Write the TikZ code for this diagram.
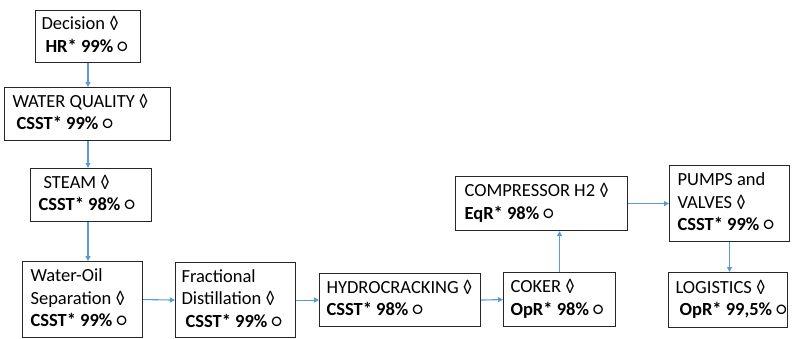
\documentclass[tikz,border=0pt]{standalone}
\usepackage{fontspec}
\setmainfont{Carlito}
\usetikzlibrary{arrows.meta}
\definecolor{linkblue}{HTML}{5B9BD5}
\definecolor{boxline}{HTML}{262626}
\tikzset{
  box/.style={draw=boxline, line width=1.1pt, rectangle, inner sep=0pt,
    font=\fontsize{18.5}{22.5}\selectfont, anchor=north west},
  arr/.style={draw=linkblue, line width=1.1pt, -{Triangle[length=5pt,width=5pt]}},
}
% left-aligned lines of a box, set after a left indent, filling the box width
\newcommand{\boxlines}[3]{%
  \makebox[#1pt][l]{\hspace*{#2pt}\begin{tabular}{@{}l@{}}#3\end{tabular}}}
\newcommand{\ind}{\hspace*{4pt}}
\begin{document}
\begin{tikzpicture}[x=1pt,y=-1pt]
  \useasboundingbox (0,0) rectangle (797,338);

  \node[box, minimum width=105pt, minimum height=52pt] (dec) at (35,10)
    {\boxlines{105}{6}{Decision ◊\\ \ind\textbf{HR* 99\%} ○}};
  \node[box, minimum width=166pt, minimum height=53pt] (wq) at (4,87)
    {\boxlines{166}{8}{WATER QUALITY ◊\\ \ind\textbf{CSST* 99\%} ○}};
  \node[box, minimum width=121pt, minimum height=53pt] (st) at (30,168)
    {\boxlines{121}{8}{\hspace*{5pt}STEAM ◊\\ \textbf{CSST* 98\%} ○}};
  \node[box, minimum width=120pt, minimum height=76pt] (wo) at (22,261)
    {\boxlines{120}{8}{Water-Oil\\ Separation ◊\\ \textbf{CSST* 99\%} ○}};
  \node[box, minimum width=120pt, minimum height=75pt] (fd) at (175,262)
    {\boxlines{120}{6}{Fractional\\ Distillation ◊\\ \ind\textbf{CSST* 99\%} ○}};
  \node[box, minimum width=161pt, minimum height=53pt] (hc) at (319,273)
    {\boxlines{161}{7}{HYDROCRACKING ◊\\ \textbf{CSST* 98\%} ○}};
  \node[box, minimum width=112pt, minimum height=54pt] (ck) at (503,272)
    {\boxlines{112}{7}{COKER ◊\\ \textbf{OpR* 98\%} ○}};
  \node[box, minimum width=172pt, minimum height=54pt] (cp) at (455,176)
    {\boxlines{172}{9}{COMPRESSOR H2 ◊\\ \textbf{EqR* 98\%} ○}};
  \node[box, minimum width=120pt, minimum height=76pt] (pv) at (669,165)
    {\boxlines{120}{8}{PUMPS and\\ VALVES ◊\\ \textbf{CSST* 99\%} ○}};
  \node[box, minimum width=119pt, minimum height=55pt] (lg) at (668,272)
    {\boxlines{119}{7}{LOGISTICS ◊\\ \ind\textbf{OpR* 99,5\%} ○}};

  \coordinate (spine) at (88,0);
  \draw[arr] (dec.south -| spine) -- (wq.north -| spine);
  \draw[arr] (wq.south -| spine) -- (st.north -| spine);
  \draw[arr] (st.south -| spine) -- (wo.north -| spine);
  \draw[arr] (wo.east) -- (fd.west);
  \draw[arr] (fd.east) -- (hc.west);
  \draw[arr] (hc.east) -- (ck.west);
  \draw[arr] (ck.north) -- (ck.north |- cp.south);
  \draw[arr] (cp.east) -- (pv.west);
  \draw[arr] (pv.south) -- (pv.south |- lg.north);
\end{tikzpicture}
\end{document}
